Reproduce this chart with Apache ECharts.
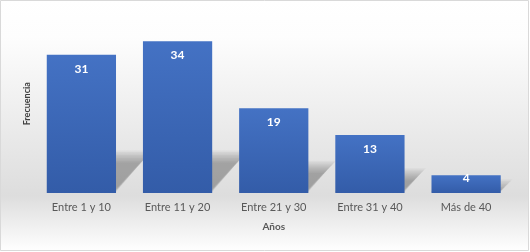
<!DOCTYPE html>
<html><head><meta charset="utf-8">
<script src="https://cdn.jsdelivr.net/npm/echarts@6/dist/echarts.min.js"></script>
<style>html,body{margin:0;padding:0;background:#fff}#c{width:530px;height:252px}</style>
</head><body><div id="c"></div>
<script>
const categories = ['Entre 1 y 10', 'Entre 11 y 20', 'Entre 21 y 30', 'Entre 31 y 40', 'Más de 40'];
const frecuencia = [31, 34, 19, 13, 4];
const xName = 'Años';
const yName = 'Frecuencia';

const chart = echarts.init(document.getElementById('c'), null, {renderer: 'canvas'});
const FONT = 'Lato';
const barRatio = 0.72;

chart.setOption({
  animation: false,
  graphic: [{
    type: 'rect', silent: true, z: -10,
    shape: {x: 0.5, y: 0.5, width: 528, height: 250},
    style: {
      stroke: '#d9d9d9', lineWidth: 1,
      fill: new echarts.graphic.LinearGradient(0, 0, 0, 1, [
        {offset: 0, color: '#ffffff'},
        {offset: 0.15, color: '#fdfdfd'},
        {offset: 0.78, color: '#dddddd'},
        {offset: 1, color: '#ffffff'}
      ])
    }
  }],
  grid: {left: 33.3, right: 15.8, top: 14.5, bottom: 59, containLabel: false},
  xAxis: {
    type: 'category', data: categories,
    axisLine: {show: false}, axisTick: {show: false},
    axisLabel: {color: '#595959', fontSize: 11, fontFamily: FONT, margin: 9},
    name: xName, nameLocation: 'middle', nameGap: 29,
    nameTextStyle: {color: '#595959', fontSize: 10, fontWeight: 'bold', fontFamily: FONT}
  },
  yAxis: {
    type: 'value', min: 0, max: 40,
    show: true,
    axisLine: {show: false}, axisTick: {show: false}, axisLabel: {show: false},
    splitLine: {show: false},
    name: yName, nameLocation: 'middle', nameGap: 2, nameRotate: 90,
    nameTextStyle: {color: '#404040', fontSize: 9, fontWeight: 'bold', fontFamily: FONT}
  },
  series: [{
    type: 'custom', z: 1, silent: true,
    data: frecuencia.map((v, i) => [i, v]),
    renderItem: function (params, api) {
      const top = api.coord([api.value(0), api.value(1)]);
      const base = api.coord([api.value(0), 0]);
      const band = api.size([1, 0])[0];
      const w = band * barRatio;
      const xL = base[0] - w / 2, xR = base[0] + w / 2;
      const h = base[1] - top[1];
      const H = Math.min(h * 0.28, 34);
      const s = H * 0.85;
      const b = base[1] - 1;
      const children = [];
      for (let k = 5; k >= -3; k--) {
        const e = k * 1.5;
        children.push({
          type: 'polygon',
          shape: {points: [[xL, b + Math.min(e, 0)], [xR - e * 0.3, b + Math.min(e, 0)], [xR + s + e, b - H - e], [xL + s, b - H - e]]},
          style: {fill: 'rgba(80,80,80,0.055)'}
        });
      }
      return {type: 'group', children: children};
    }
  }, {
    type: 'bar', z: 2,
    data: frecuencia.map((v, i) => i === frecuencia.length - 1 ? {value: v, label: {distance: -3}} : v),
    barCategoryGap: '28%',
    itemStyle: {
      color: new echarts.graphic.LinearGradient(0, 0, 0, 1, [
        {offset: 0, color: '#4472c4'},
        {offset: 1, color: '#335ca8'}
      ])
    },
    label: {
      show: true, position: 'insideTop', distance: 8,
      color: '#ffffff', fontSize: 12, fontWeight: 'bold', fontFamily: FONT
    }
  }]
});
</script></body></html>
